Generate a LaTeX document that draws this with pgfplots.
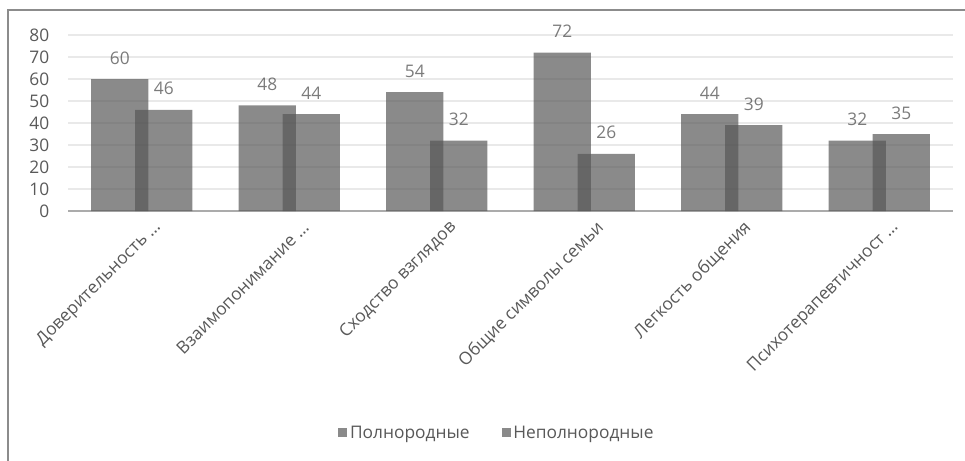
\documentclass[border=0pt]{standalone}
\usepackage{fontspec}
\setmainfont{Open Sans}
\usepackage{pgfplots}
\pgfplotsset{compat=1.18}

\definecolor{barfill}{HTML}{565656}
\definecolor{gridc}{HTML}{E9E9E9}
\definecolor{axisc}{HTML}{ABABAB}
\definecolor{labc}{HTML}{595959}
\definecolor{datac}{HTML}{404040}
\definecolor{framec}{HTML}{8C8C8C}

\begin{document}
\begin{tikzpicture}
\useasboundingbox (0,0) rectangle (723.75pt,345.75pt);
\begin{axis}[
    at={(51pt,187.5pt)}, anchor=south west,
    scale only axis,
    width=663.75pt, height=132pt,
    xmin=-0.5, xmax=5.5,
    ymin=0, ymax=80,
    ytick={0,10,20,30,40,50,60,70,80},
    xtick=data,
    xticklabels={
        {Доверительность \ldots},
        {Взаимопонимание \ldots},
        {Сходство взглядов},
        {Общие символы семьи},
        {Легкость общения},
        {Психотерапевтичност \ldots}
    },
    font=\fontsize{13pt}{15.5pt}\selectfont,
    /pgf/number format/assume math mode=true,
    tick label style={text=labc},
    xticklabel style={rotate=45, anchor=east, xshift=5pt, yshift=-16pt},
    yticklabel style={anchor=east, xshift=-10.5pt},
    major tick length=0pt,
    axis x line*=bottom, axis y line*=left,
    x axis line style={draw=axisc, line width=1.6pt},
    y axis line style={draw=none},
    ymajorgrids,
    grid style={draw=gridc, line width=1.3pt},
    clip=false,
    ybar, bar width=43.1pt,
    nodes near coords,
    every node near coord/.append style={text=datac, anchor=south, yshift=7.5pt},
    legend columns=2,
    legend style={at={(0.485,-1.261)}, anchor=center, draw=none,
        text=labc, /tikz/every even column/.append style={column sep=22pt}},
    legend image code/.code={\fill[#1] (0pt,-3.4pt) rectangle (6.8pt,3.4pt);},
]
\addplot[fill=barfill, fill opacity=0.69, draw=none, bar shift=-16.5pt]
    coordinates {(0,60) (1,48) (2,54) (3,72) (4,44) (5,32)};
\addplot[fill=barfill, fill opacity=0.69, draw=none, bar shift=16.5pt]
    coordinates {(0,46) (1,44) (2,32) (3,26) (4,39) (5,35)};
\legend{Полнородные, Неполнородные}
\end{axis}
\draw[framec, line width=1.5pt] (6pt,0pt) -- (6pt,338.6pt) -- (723.75pt,338.6pt);
\end{tikzpicture}
\end{document}
